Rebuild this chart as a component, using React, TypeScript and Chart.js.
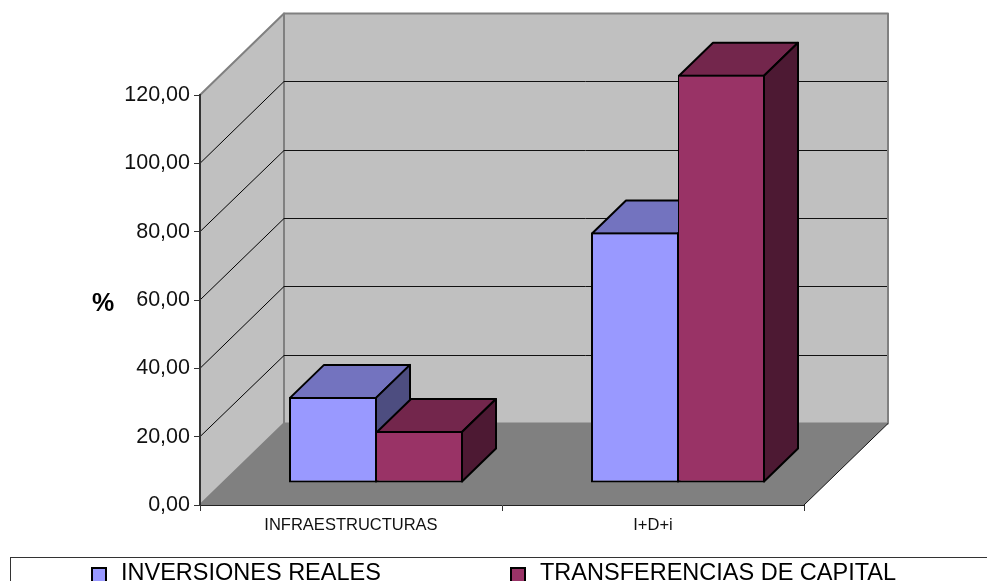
import React, { useEffect, useRef } from "react";
import { Chart, registerables } from "chart.js";

Chart.register(...registerables);

const categories = ["INFRAESTRUCTURAS", "I+D+i"];
const inversionesReales = [25.2, 73.3];
const transferenciasCapital = [15.2, 119.5];
const seriesNames = ["INVERSIONES REALES", "TRANSFERENCIAS DE CAPITAL"];
const yTitle = "%";
const FONT = '"Liberation Sans", Arial, sans-serif';

const faceColors = [
  { front: "#9999FF", top: "#7373BF", side: "#4D4D80" },
  { front: "#993366", top: "#73264C", side: "#4D1933" },
];

// 3D projection parameters
const wallDX = 84;
const wallDY = 81.5;
const barOffsetX = 25;
const barOffsetY = 22;
const barDepthX = 34;
const barDepthY = 33;
const rightInset = [0, 1];

function poly(ctx: CanvasRenderingContext2D, pts: number[][], fill: string | null, stroke: string | null, lw = 1) {
  ctx.beginPath();
  pts.forEach((p, i) => (i ? ctx.lineTo(p[0], p[1]) : ctx.moveTo(p[0], p[1])));
  ctx.closePath();
  if (fill) {
    ctx.fillStyle = fill;
    ctx.fill();
  }
  if (stroke) {
    ctx.strokeStyle = stroke;
    ctx.lineWidth = lw;
    ctx.lineJoin = "round";
    ctx.stroke();
  }
}

function line(ctx: CanvasRenderingContext2D, x1: number, y1: number, x2: number, y2: number, color: string, lw = 1) {
  ctx.beginPath();
  ctx.moveTo(x1, y1);
  ctx.lineTo(x2, y2);
  ctx.strokeStyle = color;
  ctx.lineWidth = lw;
  ctx.stroke();
}

const box3d = {
  id: "box3d",
  beforeDraw(chart: any) {
    const { ctx, chartArea: a, scales } = chart;
    const { left, right, top, bottom } = a;
    ctx.save();
    // back wall
    poly(ctx, [[left + wallDX, top - wallDY], [right + wallDX, top - wallDY], [right + wallDX, bottom - wallDY], [left + wallDX, bottom - wallDY]], "#C0C0C0", "#808080", 2);
    // left wall
    poly(ctx, [[left, top], [left + wallDX, top - wallDY], [left + wallDX, bottom - wallDY], [left, bottom]], "#C0C0C0", "#808080", 2);
    // grid lines
    scales.y.ticks.forEach((t: any) => {
      if (t.value === 0 || t.value === scales.y.max) return;
      const y = scales.y.getPixelForValue(t.value);
      const backY = Math.floor(y - wallDY) + 0.5;
      line(ctx, left, y, left + wallDX, backY, "#000000", 1);
      line(ctx, left + wallDX, backY, right + wallDX - 1, backY, "#111111", 1);
    });
    // floor
    poly(ctx, [[left, bottom], [right, bottom], [right + wallDX, bottom - wallDY], [left + wallDX, bottom - wallDY]], "#808080", null);
    line(ctx, right, bottom, right + wallDX, bottom - wallDY, "#111111", 1);
    ctx.restore();
  },
  // Left-hand series must be painted first so the right-hand one overlaps its side face.
  beforeDatasetsDraw(chart: any) {
    const { ctx } = chart;
    [0, 1].forEach((index) => {
      const meta = chart.getDatasetMeta(index);
      const c = faceColors[index];
      ctx.save();
      ctx.translate(barOffsetX, -barOffsetY);
      meta.data.forEach((el: any) => {
        const { x, y, base, width } = el.getProps(["x", "y", "base", "width"], true);
        const l = x - width / 2 + 1;
        const r = x + width / 2 - rightInset[index];
        const t = y + 1;
        const b = base - 1;
        poly(ctx, [[l, t], [r, t], [r + barDepthX, t - barDepthY], [l + barDepthX, t - barDepthY]], c.top, "#000000", 2);
        poly(ctx, [[r, t], [r + barDepthX, t - barDepthY], [r + barDepthX, b - barDepthY], [r, b]], c.side, "#000000", 2);
      });
      meta.controller.draw();
      ctx.restore();
    });
  },
  beforeDatasetDraw() {
    return false;
  },
  afterDraw(chart: any) {
    const { ctx, width, height } = chart;
    ctx.save();
    // axis title
    ctx.fillStyle = "#000000";
    ctx.font = `bold 25px ${FONT}`;
    ctx.textAlign = "center";
    ctx.textBaseline = "middle";
    ctx.fillText(yTitle, 103, 304);
    // legend frame
    ctx.strokeStyle = "#333333";
    ctx.lineWidth = 1;
    ctx.strokeRect(10.5, 557.5, width + 20, height);
    // legend entries
    ctx.font = `23.5px ${FONT}`;
    ctx.textAlign = "left";
    ctx.textBaseline = "alphabetic";
    const swatchX = [92, 511];
    const textX = [121, 540];
    seriesNames.forEach((name, i) => {
      ctx.fillStyle = faceColors[i].front;
      ctx.strokeStyle = "#000000";
      ctx.lineWidth = 2;
      ctx.fillRect(swatchX[i], 568, 14, 14);
      ctx.strokeRect(swatchX[i], 568, 14, 14);
      ctx.fillStyle = "#000000";
      ctx.fillText(name, textX[i], 580);
    });
    ctx.restore();
  },
};

export default function App() {
  const ref = useRef<HTMLCanvasElement | null>(null);
  useEffect(() => {
    const chart = new Chart(ref.current as HTMLCanvasElement, {
      type: "bar",
      data: {
        labels: categories,
        datasets: [
          { label: seriesNames[0], data: inversionesReales, backgroundColor: faceColors[0].front, borderWidth: { top: 2, bottom: 2, left: 2, right: 1 } },
          { label: seriesNames[1], data: transferenciasCapital, backgroundColor: faceColors[1].front, borderWidth: { top: 2, bottom: 2, left: 1, right: 2 } },
        ].map((d) => ({ ...d, borderColor: "#000000", borderSkipped: false, clip: false as any, barPercentage: 1, categoryPercentage: 174 / 302 })),
      },
      options: {
        responsive: false,
        animation: false,
        layout: { padding: { left: 0, top: 95, right: 183, bottom: 0 } },
        plugins: { legend: { display: false }, tooltip: { enabled: false }, title: { display: false } },
        scales: {
          x: {
            afterFit: (s: any) => {
              s.height = 76;
            },
            grid: { drawOnChartArea: false, drawTicks: true, tickLength: 6, color: "#333333" },
            border: { color: "#222222", width: 1 },
            ticks: { color: "#111111", font: { family: FONT, size: 16.5 }, padding: 5, maxRotation: 0 },
          },
          y: {
            min: 0,
            max: 120,
            afterFit: (s: any) => {
              s.width = 200;
            },
            grid: { drawOnChartArea: false, drawTicks: true, tickLength: 6, color: "#333333" },
            border: { color: "#333333", width: 2 },
            ticks: {
              stepSize: 20,
              color: "#111111",
              font: { family: FONT, size: 21.5 },
              padding: 4,
              callback: (v: any) => Number(v).toFixed(2).replace(".", ","),
            },
          },
        },
      },
      plugins: [box3d],
    } as any);
    return () => chart.destroy();
  }, []);
  return (
    <div style={{ position: "absolute", left: 0, top: 0, width: 987, height: 581, overflow: "hidden", background: "#fff" }}>
      <canvas ref={ref} width={987} height={581} style={{ display: "block" }} />
    </div>
  );
}
